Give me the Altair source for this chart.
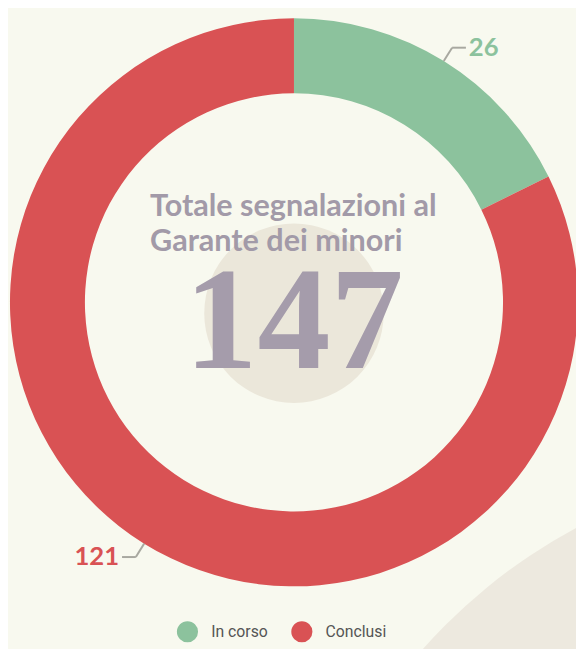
import math
import altair as alt
import pandas as pd

categories = ["In corso", "Conclusi"]
values = [26, 121]
colors = ["#8cc29d", "#d95254"]
total_label = "147"
title_lines = ["Totale segnalazioni al", "Garante dei minori"]

W, H = 576, 641
CX, CY = 290, 294
R_OUT, R_IN = 288, 212

df = pd.DataFrame({"cat": categories, "val": values, "ord": list(range(len(values)))})

xs = alt.Scale(domain=[0, W], range=[0, W])
ys = alt.Scale(domain=[0, H], range=[0, H])
color_scale = alt.Scale(domain=categories, range=colors)

# decorative background shape (bottom right)
deco = alt.Chart(pd.DataFrame({"v": [1]})).mark_arc(
    outerRadius=563, color="#ede9df"
).encode(theta=alt.Theta("v:Q"), x=alt.value(842), y=alt.value(1019))

donut = alt.Chart(df).mark_arc(outerRadius=R_OUT, innerRadius=R_IN, stroke=None).encode(
    theta=alt.Theta("val:Q", stack=True),
    order=alt.Order("ord:Q"),
    color=alt.Color("cat:N", scale=color_scale, legend=None),
    x=alt.value(CX), y=alt.value(CY),
)

# leader lines computed from slice mid angles
total = sum(values)
segs, labels = [], []
cum = 0
for c, v in zip(categories, values):
    mid = (cum + v / 2) / total * 2 * math.pi
    cum += v
    px = CX + R_OUT * math.sin(mid)
    py = CY - R_OUT * math.cos(mid)
    ex = CX + (R_OUT + 16) * math.sin(mid)
    ey = CY - (R_OUT + 16) * math.cos(mid)
    side = 1 if math.sin(mid) >= 0 else -1
    hx = ex + side * 14
    segs.append({"cat": c, "x": px, "y": py, "x2": ex, "y2": ey})
    segs.append({"cat": c, "x": ex, "y": ey, "x2": hx, "y2": ey})
    labels.append({"cat": c, "lbl": str(v), "x": hx + side * 3, "y": ey,
                   "align": "left" if side > 0 else "right"})
seg_df = pd.DataFrame(segs)
lab_df = pd.DataFrame(labels)

leaders = alt.Chart(seg_df).mark_rule(color="#a8a8a0", strokeWidth=2).encode(
    x=alt.X("x:Q", scale=xs, axis=None), y=alt.Y("y:Q", scale=ys, axis=None),
    x2="x2:Q", y2="y2:Q",
)
lab_r = alt.Chart(lab_df[lab_df["align"] == "left"]).mark_text(
    align="left", baseline="middle", font="Lato", fontWeight="bold", fontSize=26
).encode(
    x=alt.X("x:Q", scale=xs, axis=None), y=alt.Y("y:Q", scale=ys, axis=None),
    text="lbl:N", color=alt.Color("cat:N", scale=color_scale, legend=None),
)
lab_l = alt.Chart(lab_df[lab_df["align"] == "right"]).mark_text(
    align="right", baseline="middle", font="Lato", fontWeight="bold", fontSize=26
).encode(
    x=alt.X("x:Q", scale=xs, axis=None), y=alt.Y("y:Q", scale=ys, axis=None),
    text="lbl:N", color=alt.Color("cat:N", scale=color_scale, legend=None),
)

center_circle = alt.Chart(pd.DataFrame({"v": [1]})).mark_arc(
    outerRadius=91, color="#ebe7da"
).encode(theta=alt.Theta("v:Q"), x=alt.value(290), y=alt.value(305))

big_num = alt.Chart(pd.DataFrame({"t": [total_label]})).mark_text(
    font="Liberation Serif", fontWeight="bold", fontSize=148, color="#a59cab",
    align="center", baseline="alphabetic"
).encode(text="t:N", x=alt.value(290), y=alt.value(361))

title_df = pd.DataFrame({"t": title_lines, "y": [197, 233]})
title = alt.Chart(title_df).mark_text(
    font="Lato", fontWeight="bold", fontSize=31, color="#a29aa8",
    align="left", baseline="middle"
).encode(text="t:N", x=alt.value(144), y=alt.Y("y:Q", scale=ys, axis=None))

leg_df = pd.DataFrame({"cat": categories, "x": [182, 298], "y": [628, 628]})
leg_pts = alt.Chart(leg_df).mark_point(filled=True, shape="circle", size=460, opacity=1).encode(
    x=alt.X("x:Q", scale=xs, axis=None), y=alt.Y("y:Q", scale=ys, axis=None),
    color=alt.Color("cat:N", scale=color_scale, legend=None),
)
leg_txt = alt.Chart(leg_df).mark_text(
    align="left", baseline="middle", font="Roboto", fontSize=16,
    color="#555555", dx=24
).encode(
    x=alt.X("x:Q", scale=xs, axis=None), y=alt.Y("y:Q", scale=ys, axis=None),
    text="cat:N",
)

chart = alt.layer(
    deco, donut, center_circle, big_num, title, leaders, lab_r, lab_l, leg_pts, leg_txt
).properties(
    width=W, height=H, autosize=alt.AutoSizeParams(type="none"), padding=0,
    background="#f8f9ef",
).configure_view(stroke=None, clip=False).resolve_scale(theta="independent")

chart.save("out.html", embed_options={"renderer": "svg", "actions": False})
